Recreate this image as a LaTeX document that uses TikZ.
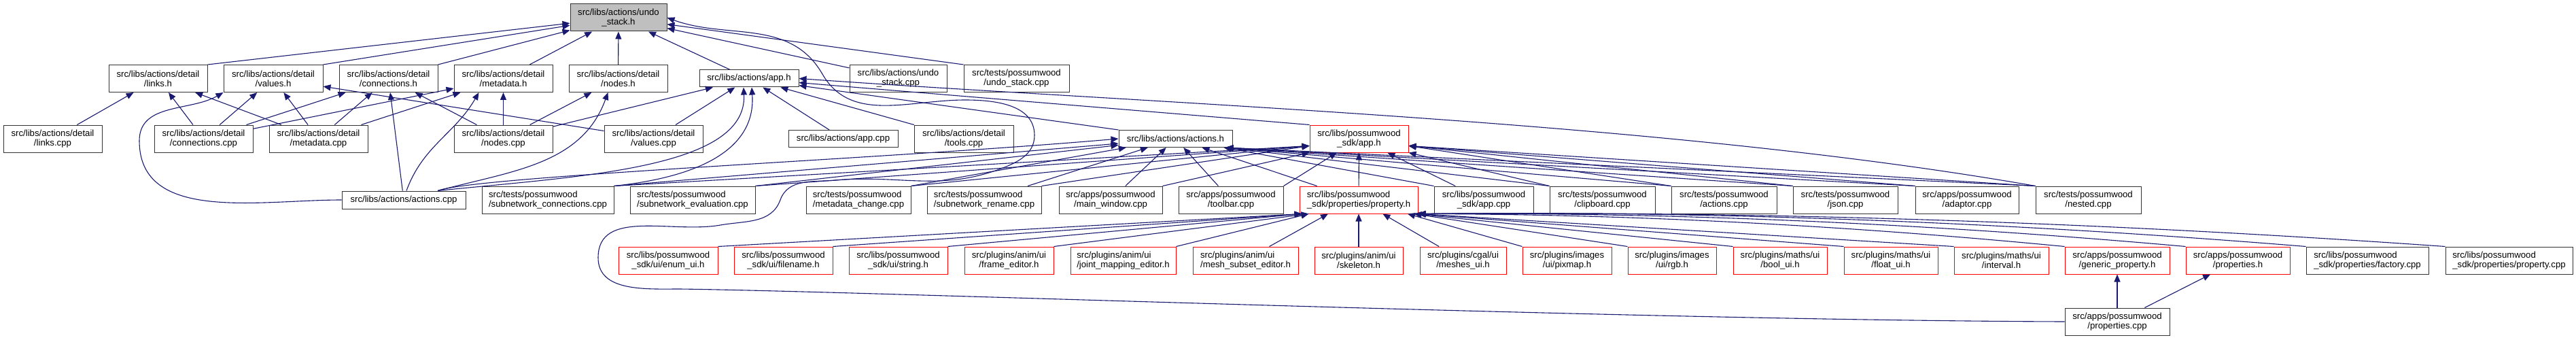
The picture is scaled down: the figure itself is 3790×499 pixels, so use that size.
\documentclass[tikz,border=0pt]{standalone}
\usepackage{fontspec}
\setmainfont{Liberation Sans}
\usepackage{xcolor}
\usetikzlibrary{arrows.meta}
\definecolor{edgeblue}{HTML}{191970}

\begin{document}
\begin{tikzpicture}[x=1pt,y=1pt,
  box/.style={draw=black!80,line width=1pt,fill=white,align=center,inner sep=0pt,minimum width=145pt,minimum height=40pt,font=\fontsize{13.2}{14}\selectfont},
  boxl/.style={box,align=left},
  rbox/.style={box,draw=red},
  rboxl/.style={boxl,draw=red},
  arrow/.style={-{Triangle[length=11pt,width=9pt]},line width=1.1pt,draw=edgeblue}
]
\useasboundingbox (0,0) rectangle (3790,499);

\node[box,fill=black!25,minimum width=142pt] (undoh) at (910,473) {src/libs/actions/undo\\\_stack.h};

\node[box] (linksh) at (232.5,383.5) {src/libs/actions/detail\\/links.h};
\node[box,minimum width=146pt] (valuesh) at (402,383.5) {src/libs/actions/detail\\/values.h};
\node[box] (connh) at (571.5,383.5) {src/libs/actions/detail\\/connections.h};
\node[box] (metah) at (740.5,383.5) {src/libs/actions/detail\\/metadata.h};
\node[box] (nodesh) at (909.5,383.5) {src/libs/actions/detail\\/nodes.h};
\node[box,minimum width=146pt,minimum height=25pt] (apph) at (1102,383.5) {src/libs/actions/app.h};
\node[box,minimum width=143pt] (undocpp) at (1321.5,383.5) {src/libs/actions/undo\\\_stack.cpp};
\node[box,minimum width=155pt] (tundo) at (1495.5,383.5) {src/tests/possumwood\\/undo\_stack.cpp};

\node[box] (linkscpp) at (77.5,295) {src/libs/actions/detail\\/links.cpp};
\node[box] (conncpp) at (299.5,295) {src/libs/actions/detail\\/connections.cpp};
\node[box] (metacpp) at (468.5,295) {src/libs/actions/detail\\/metadata.cpp};
\node[box] (nodescpp) at (740.5,295) {src/libs/actions/detail\\/nodes.cpp};
\node[box] (valuescpp) at (961.5,295) {src/libs/actions/detail\\/values.cpp};
\node[box,minimum width=161pt,minimum height=25pt] (appcpp) at (1240.5,295) {src/libs/actions/app.cpp};
\node[box,minimum width=146pt] (toolscpp) at (1418,295) {src/libs/actions/detail\\/tools.cpp};
\node[box,minimum width=167pt,minimum height=25pt] (actionsh) at (1729.5,295) {src/libs/actions/actions.h};
\node[rbox] (sdkapph) at (1999.5,295) {src/libs/possumwood\\\_sdk/app.h};

\node[box,minimum width=182pt,minimum height=26pt] (actionscpp) at (594,205) {src/libs/actions/actions.cpp};
\node[boxl,minimum width=194pt] (tsubconn) at (806,205) {src/tests/possumwood\\/subnetwork\_connections.cpp};
\node[boxl,minimum width=184pt] (tsubeval) at (1019,205) {src/tests/possumwood\\/subnetwork\_evaluation.cpp};
\node[boxl,minimum width=154pt] (tmetachg) at (1263,205) {src/tests/possumwood\\/metadata\_change.cpp};
\node[boxl,minimum width=168pt] (tsubren) at (1448,205) {src/tests/possumwood\\/subnetwork\_rename.cpp};
\node[box,minimum width=152pt] (mainwin) at (1634,205) {src/apps/possumwood\\/main\_window.cpp};
\node[box,minimum width=154pt] (toolbar) at (1811,205) {src/apps/possumwood\\/toolbar.cpp};
\node[rboxl,minimum width=174pt] (propertyh) at (1999,205) {src/libs/possumwood\\\_sdk/properties/property.h};
\node[box,minimum width=146pt] (sdkappcpp) at (2183,205) {src/libs/possumwood\\\_sdk/app.cpp};
\node[box,minimum width=155pt] (tclip) at (2357.5,205) {src/tests/possumwood\\/clipboard.cpp};
\node[box,minimum width=155pt] (tactions) at (2536.5,205) {src/tests/possumwood\\/actions.cpp};
\node[box,minimum width=154pt] (tjson) at (2715,205) {src/tests/possumwood\\/json.cpp};
\node[box,minimum width=152pt] (adaptor) at (2894,205) {src/apps/possumwood\\/adaptor.cpp};
\node[box,minimum width=155pt] (tnested) at (3072.5,205) {src/tests/possumwood\\/nested.cpp};

\node[rbox,minimum width=146pt] (enumui) at (983,116) {src/libs/possumwood\\\_sdk/ui/enum\_ui.h};
\node[rbox] (filename) at (1152.5,116) {src/libs/possumwood\\\_sdk/ui/filename.h};
\node[rbox] (stringh) at (1321.5,116) {src/libs/possumwood\\\_sdk/ui/string.h};
\node[rbox,minimum width=131pt] (frameed) at (1484.5,116) {src/plugins/anim/ui\\/frame\_editor.h};
\node[rboxl,minimum width=155pt] (jointed) at (1652.5,116) {src/plugins/anim/ui\\/joint\_mapping\_editor.h};
\node[rboxl,minimum width=155pt] (meshsub) at (1832.5,116) {src/plugins/anim/ui\\/mesh\_subset\_editor.h};
\node[rbox,minimum width=130pt] (skeleton) at (1999,116) {src/plugins/anim/ui\\/skeleton.h};
\node[rbox,minimum width=127pt] (meshesui) at (2152.5,116) {src/plugins/cgal/ui\\/meshes\_ui.h};
\node[rbox,minimum width=131pt] (pixmap) at (2305.5,116) {src/plugins/images\\/ui/pixmap.h};
\node[rbox,minimum width=130pt] (rgb) at (2460,116) {src/plugins/images\\/ui/rgb.h};
\node[rbox,minimum width=138pt] (boolui) at (2619,116) {src/plugins/maths/ui\\/bool\_ui.h};
\node[rbox,minimum width=138pt] (floatui) at (2782,116) {src/plugins/maths/ui\\/float\_ui.h};
\node[rbox,minimum width=139pt] (interval) at (2944.5,116) {src/plugins/maths/ui\\/interval.h};
\node[rbox,minimum width=154pt] (genprop) at (3115,116) {src/apps/possumwood\\/generic\_property.h};
\node[rbox,minimum width=153pt] (propsh) at (3292.5,116) {src/apps/possumwood\\/properties.h};
\node[boxl,minimum width=180pt] (factory) at (3483,116) {src/libs/possumwood\\\_sdk/properties/factory.cpp};
\node[boxl,minimum width=187pt] (propcpp) at (3691.5,116) {src/libs/possumwood\\\_sdk/properties/property.cpp};

\node[box,minimum width=154pt] (propscpp) at (3115,26) {src/apps/possumwood\\/properties.cpp};

\draw[arrow] (linksh.north east) -- (undoh);
\draw[arrow] (valuesh.north east) -- (undoh);
\draw[arrow] (connh.north east) -- (undoh);
\draw[arrow] (metah) -- (undoh);
\draw[arrow] (nodesh) -- (undoh);
\draw[arrow] (apph) -- (undoh);
\draw[arrow] (undocpp) -- (undoh);
\draw[arrow] (tundo.north west) -- (undoh);
\draw[arrow] (propscpp.west) .. controls (2400,28) and (1300,70) .. (1000,74) to[out=180,in=270] (880,120) to[out=90,in=190] (1060,168) to[out=10,in=250] (1148,205) to[out=70,in=185] (1230,234) to[out=5,in=200] (1470,250) to[out=20,in=270] (1522,300) to[out=90,in=0] (1420,352) to[out=180,in=300] (1210,390) to[out=120,in=-20] (undoh.east);

\draw[arrow] (linkscpp) -- (linksh);
\draw[arrow] (conncpp) -- (linksh);
\draw[arrow] (metacpp) -- (linksh);

\draw[arrow] (conncpp) -- (valuesh);
\draw[arrow] (metacpp) -- (valuesh);
\draw[arrow] (valuescpp) -- (valuesh);
\draw[arrow] (actionscpp.west) to[out=180,in=270] (205,292) to[out=90,in=210] (valuesh.south west);

\draw[arrow] (conncpp) -- (connh);
\draw[arrow] (metacpp) -- (connh);
\draw[arrow] (actionscpp) -- (connh);
\draw[arrow] (nodescpp) -- (connh);

\draw[arrow] (conncpp) -- (metah);
\draw[arrow] (metacpp) -- (metah);
\draw[arrow] ([xshift=4pt]actionscpp.north) to[out=70,in=240] ([xshift=-36pt]metah.south);
\draw[arrow] (nodescpp) -- (metah);

\draw[arrow] (nodescpp) -- (nodesh);
\draw[arrow] ([xshift=50pt]actionscpp.north) to[out=15,in=250] ([xshift=-15pt]nodesh.south);

\draw[arrow] (nodescpp) -- (apph);
\draw[arrow] (valuescpp) -- (apph);
\draw[arrow] ([xshift=50pt]actionscpp.north) .. controls (850,240) and (1100,250) .. ([xshift=-8pt]apph.south);
\draw[arrow] (tsubconn.north east) .. controls (1040,240) and (1112,285) .. ([xshift=4pt]apph.south);
\draw[arrow] (appcpp) -- (apph);
\draw[arrow] (toolscpp) -- (apph);
\draw[arrow] (actionsh.north west) -- (apph);
\draw[arrow] (sdkapph.north west) -- (apph);
\draw[arrow] (tnested.north west) .. controls (2455,320) and (1722,345) .. (apph.east);

\draw[arrow] ([xshift=50pt]actionscpp.north) .. controls (700,240) and (1300,265) .. (actionsh.west);
\draw[arrow] (tsubconn.north east) -- (actionsh);
\draw[arrow] (tsubeval.north east) -- (actionsh);
\draw[arrow] (tmetachg.north east) -- (actionsh);
\draw[arrow] (tsubren) -- (actionsh);
\draw[arrow] (mainwin) -- (actionsh);
\draw[arrow] (toolbar) -- (actionsh);
\draw[arrow] (propertyh) -- (actionsh);
\draw[arrow] (sdkappcpp.north west) -- (actionsh);
\draw[arrow] (tclip.north west) -- ([xshift=-10pt]actionsh.south east);
\draw[arrow] (tactions.north west) -- ([xshift=-10pt]actionsh.south east);
\draw[arrow] (tjson.north west) -- ([xshift=-10pt]actionsh.south east);
\draw[arrow] (adaptor.north west) -- ([xshift=-10pt]actionsh.south east);
\draw[arrow] (tnested.north west) -- ([xshift=-10pt]actionsh.south east);

\draw[arrow] (tsubconn.north east) -- ([yshift=10pt]sdkapph.south west);
\draw[arrow] (tsubeval.north east) -- ([yshift=10pt]sdkapph.south west);
\draw[arrow] (tmetachg.north east) -- ([yshift=10pt]sdkapph.south west);
\draw[arrow] (tsubren.north east) -- ([yshift=10pt]sdkapph.south west);
\draw[arrow] (mainwin.north east) -- (sdkapph.south west);
\draw[arrow] (toolbar.north east) -- (sdkapph);
\draw[arrow] (propertyh) -- (sdkapph);
\draw[arrow] (sdkappcpp) -- (sdkapph);
\draw[arrow] (tclip.north west) -- (sdkapph.south east);
\draw[arrow] (tactions.north west) -- ([yshift=10pt]sdkapph.south east);
\draw[arrow] (tjson.north west) -- ([yshift=10pt]sdkapph.south east);
\draw[arrow] (adaptor.north west) -- ([yshift=10pt]sdkapph.south east);
\draw[arrow] (tnested.north west) -- ([yshift=10pt]sdkapph.south east);

\draw[arrow] (enumui.north east) -- ([xshift=4pt]propertyh.south west);
\draw[arrow] (filename.north east) -- ([xshift=4pt]propertyh.south west);
\draw[arrow] (stringh.north east) -- ([xshift=4pt]propertyh.south west);
\draw[arrow] (frameed.north east) -- ([xshift=14pt]propertyh.south west);
\draw[arrow] (jointed.north east) -- ([xshift=14pt]propertyh.south west);
\draw[arrow] ([xshift=35pt]meshsub.north) -- ([xshift=-45pt]propertyh.south);
\draw[arrow] (skeleton) -- (propertyh);
\draw[arrow] (meshesui) -- (propertyh);
\draw[arrow] (pixmap.north west) -- (propertyh);
\draw[arrow] (rgb.north west) -- ([xshift=-6pt]propertyh.south east);
\draw[arrow] (boolui.north west) -- ([xshift=-6pt]propertyh.south east);
\draw[arrow] (floatui.north west) -- (propertyh.south east);
\draw[arrow] (interval.north west) -- (propertyh.south east);
\draw[arrow] (genprop.north west) .. controls (2721,167) and (2403,184) .. (propertyh.south east);
\draw[arrow] (propsh.north west) .. controls (2839,170) and (2463,187) .. (propertyh.south east);
\draw[arrow] (factory.north west) .. controls (2957,172) and (2522,189) .. (propertyh.south east);
\draw[arrow] (propcpp.north west) .. controls (3094,172) and (2590,189) .. (propertyh.south east);

\draw[arrow] (propscpp) -- (genprop);
\draw[arrow] (propscpp) -- (propsh);
\end{tikzpicture}
\end{document}
